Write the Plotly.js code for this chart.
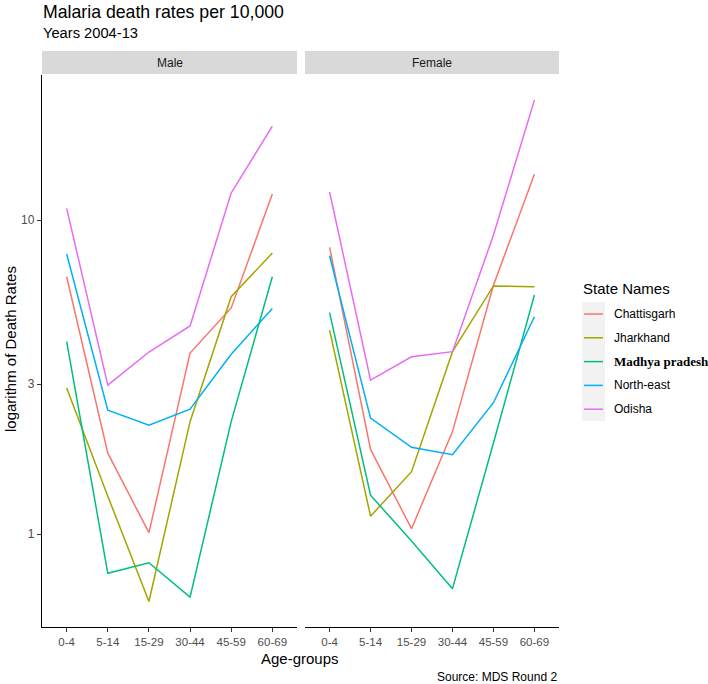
<!DOCTYPE html>
<html lang="en">
<head>
  <meta charset="UTF-8">
  <title>Malaria death rates per 10,000</title>
  <script src="https://cdn.plot.ly/plotly-3.0.1.min.js"></script>
  <style>
    body { margin: 0; background: white; }
    #chart { width: 708px; height: 684px; }
  </style>
</head>
<body>
  <div id="chart"></div>
  <script>
  (function() {
    // Categories
    const ageGroups = ['0-4', '5-14', '15-29', '30-44', '45-59', '60-69'];
    const stateNames = ['Chattisgarh', 'Jharkhand', 'Madhya pradesh', 'North-east', 'Odisha'];
    const stateColors = ['#F8766D', '#A3A500', '#00BF7D', '#00B0F6', '#E76BF3'];

    // Death rates per 10,000 - Male
    const maleChattisgarh = [6.6, 1.81, 1.01, 3.77, 5.25, 12.1];
    const maleJharkhand = [2.92, 1.32, 0.61, 2.28, 5.7, 7.85];
    const maleMadhya = [4.1, 0.75, 0.81, 0.63, 2.28, 6.6];
    const maleNortheast = [7.8, 2.48, 2.22, 2.5, 3.74, 5.23];
    const maleOdisha = [10.9, 2.98, 3.8, 4.6, 12.2, 19.9];

    // Death rates per 10,000 - Female
    const femaleChattisgarh = [8.19, 1.86, 1.04, 2.12, 6.2, 14.0];
    const femaleJharkhand = [4.46, 1.14, 1.58, 3.81, 6.17, 6.13];
    const femaleMadhya = [5.07, 1.33, 0.95, 0.67, 1.95, 5.77];
    const femaleNortheast = [7.7, 2.34, 1.89, 1.79, 2.62, 4.92];
    const femaleOdisha = [12.3, 3.09, 3.67, 3.81, 8.96, 24.1];

    const maleSeries = [maleChattisgarh, maleJharkhand, maleMadhya, maleNortheast, maleOdisha];
    const femaleSeries = [femaleChattisgarh, femaleJharkhand, femaleMadhya, femaleNortheast, femaleOdisha];

    // figure is 708 x 684, margins are zero so paper coords map straight to pixels
    const W = 708, H = 684;
    const px = v => v / W;
    const py = v => 1 - v / H;

    const FONT = 'Liberation Sans, Arial, sans-serif';
    const GREY = '#4d4d4d';

    const data = [];
    maleSeries.forEach((ys, i) => {
      data.push({
        x: ageGroups, y: ys, xaxis: 'x', yaxis: 'y',
        type: 'scatter', mode: 'lines', name: stateNames[i],
        line: { color: stateColors[i], width: 1.5 },
        showlegend: false
      });
    });
    femaleSeries.forEach((ys, i) => {
      data.push({
        x: ageGroups, y: ys, xaxis: 'x2', yaxis: 'y2',
        type: 'scatter', mode: 'lines', name: stateNames[i],
        line: { color: stateColors[i], width: 1.5 },
        showlegend: false
      });
    });

    const panelTop = 75, panelBottom = 627;
    const yDomain = [py(panelBottom), py(panelTop)];
    const yRange = [-0.296, 1.462];

    const xBase = {
      type: 'category',
      categoryorder: 'array',
      categoryarray: ageGroups,
      range: [-0.6, 5.6],
      showline: true, linecolor: '#000000', linewidth: 1.2,
      ticks: 'outside', ticklen: 4, tickcolor: '#333333', tickwidth: 1,
      tickfont: { family: FONT, size: 11.5, color: GREY },
      showgrid: false, zeroline: false, fixedrange: true
    };

    const shapes = [];
    const annotations = [];

    // facet strips
    const strips = [
      { x0: 42, x1: 297, label: 'Male' },
      { x0: 305, x1: 559, label: 'Female' }
    ];
    strips.forEach(s => {
      shapes.push({
        type: 'rect', xref: 'paper', yref: 'paper',
        x0: px(s.x0), x1: px(s.x1), y0: py(74), y1: py(51),
        fillcolor: '#d9d9d9', line: { width: 0 }, layer: 'below'
      });
      annotations.push({
        xref: 'paper', yref: 'paper', x: px((s.x0 + s.x1) / 2), y: py(62.5),
        text: s.label, showarrow: false, xanchor: 'center', yanchor: 'middle',
        font: { family: FONT, size: 12, color: '#1a1a1a' }
      });
    });

    // titles
    annotations.push({
      xref: 'paper', yref: 'paper', x: px(41), y: py(12),
      text: 'Malaria death rates per 10,000', showarrow: false,
      xanchor: 'left', yanchor: 'middle',
      font: { family: FONT, size: 17.7, color: '#000000' }
    });
    annotations.push({
      xref: 'paper', yref: 'paper', x: px(41), y: py(33.5),
      text: 'Years 2004-13', showarrow: false,
      xanchor: 'left', yanchor: 'middle',
      font: { family: FONT, size: 14.7, color: '#000000' }
    });
    annotations.push({
      xref: 'paper', yref: 'paper', x: px(300), y: py(658),
      text: 'Age-groups', showarrow: false,
      xanchor: 'center', yanchor: 'middle',
      font: { family: FONT, size: 15, color: '#000000' }
    });
    annotations.push({
      xref: 'paper', yref: 'paper', x: px(11), y: py(349),
      text: 'logarithm of Death Rates', showarrow: false, textangle: -90,
      xanchor: 'center', yanchor: 'middle',
      font: { family: FONT, size: 15, color: '#000000' }
    });
    annotations.push({
      xref: 'paper', yref: 'paper', x: px(559), y: py(677),
      text: 'Source: MDS Round 2', showarrow: false,
      xanchor: 'right', yanchor: 'middle',
      font: { family: FONT, size: 12, color: '#000000' }
    });

    // legend, drawn by hand to follow the ggplot layout
    annotations.push({
      xref: 'paper', yref: 'paper', x: px(581), y: py(288),
      text: 'State Names', showarrow: false,
      xanchor: 'left', yanchor: 'middle',
      font: { family: FONT, size: 15, color: '#000000' }
    });
    shapes.push({
      type: 'rect', xref: 'paper', yref: 'paper',
      x0: px(582), x1: px(605), y0: py(421), y1: py(302),
      fillcolor: '#f2f2f2', line: { width: 0 }, layer: 'below'
    });
    stateNames.forEach((name, i) => {
      const yy = 314 + i * 23.8;
      shapes.push({
        type: 'line', xref: 'paper', yref: 'paper',
        x0: px(584), x1: px(603), y0: py(yy), y1: py(yy),
        line: { color: stateColors[i], width: 1.5 }
      });
      const bold = name === 'Madhya pradesh';
      annotations.push({
        xref: 'paper', yref: 'paper', x: px(612), y: py(yy),
        text: bold ? '<b>' + name + '</b>' : name, showarrow: false,
        xanchor: 'left', yanchor: 'middle',
        font: {
          family: bold ? 'Liberation Serif, Times New Roman, serif' : FONT,
          size: bold ? 13 : 12, color: '#000000'
        }
      });
    });

    const layout = {
      width: W, height: H,
      margin: { l: 0, r: 0, t: 0, b: 0 },
      paper_bgcolor: 'white', plot_bgcolor: 'white',
      showlegend: false,
      xaxis: Object.assign({}, xBase, { domain: [px(42), px(297)], anchor: 'y' }),
      xaxis2: Object.assign({}, xBase, { domain: [px(305), px(559)], anchor: 'y2' }),
      yaxis: {
        type: 'log', range: yRange, domain: yDomain, anchor: 'x',
        tickvals: [1, 3, 10], ticktext: ['1', '3', '10'],
        showline: true, linecolor: '#000000', linewidth: 1.2,
        ticks: 'outside', ticklen: 4, tickcolor: '#333333', tickwidth: 1,
        tickfont: { family: FONT, size: 12, color: GREY },
        showgrid: false, zeroline: false, fixedrange: true
      },
      yaxis2: {
        type: 'log', range: yRange, domain: yDomain, anchor: 'x2',
        showticklabels: false, showline: false, ticks: '',
        showgrid: false, zeroline: false, fixedrange: true
      },
      shapes: shapes,
      annotations: annotations
    };

    Plotly.newPlot('chart', data, layout, { displayModeBar: false, staticPlot: true });
  })();
  </script>
</body>
</html>
